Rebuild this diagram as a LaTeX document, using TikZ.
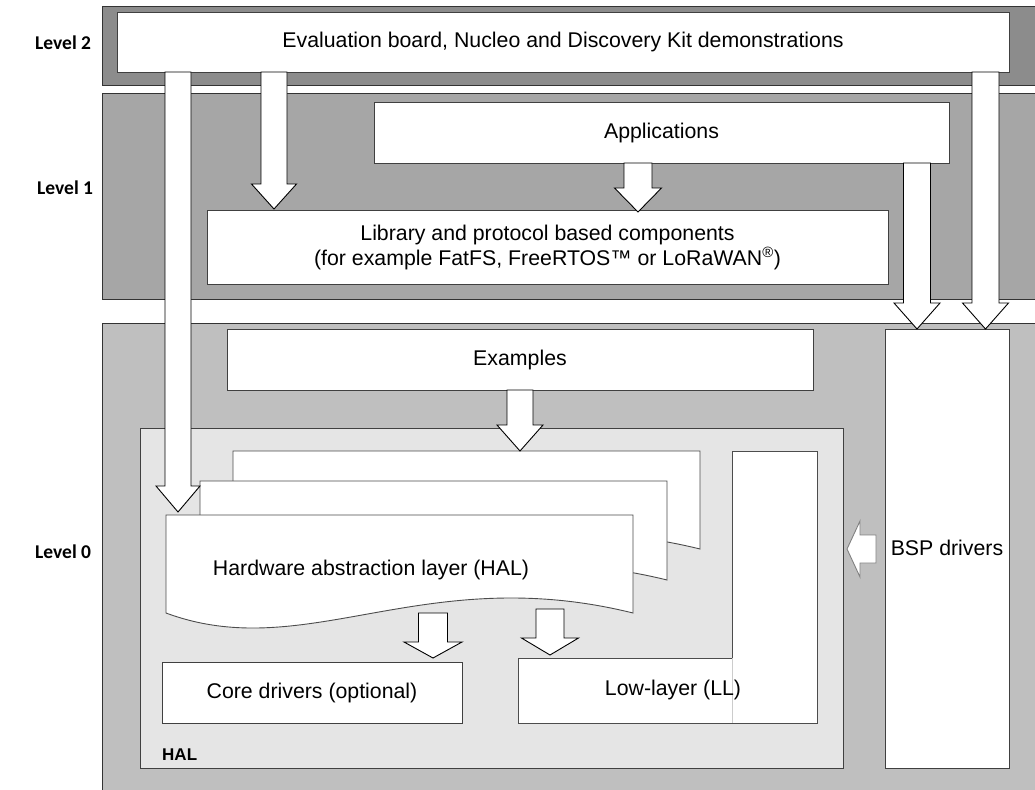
\documentclass[tikz,border=0pt]{standalone}
\usepackage{fontspec}
\setmainfont{Liberation Sans}
\newfontfamily\lvlfont{Carlito}
\begin{document}
\begin{tikzpicture}[x=1pt,y=-1pt,
  band/.style={draw=black!80, line width=1pt},
  box/.style={draw=black!75, fill=white, line width=0.9pt, rectangle, anchor=north west, inner sep=0pt, outer sep=0pt},
  doc/.style={draw=black!70, fill=white, line width=0.9pt},
  blk/.style={draw=black, fill=white, line width=0.9pt, line join=miter},
  txt/.style={font=\fontsize{21.3}{25}\selectfont, inner sep=0pt, align=center},
  lvl/.style={font=\lvlfont\bfseries\fontsize{19.5}{23}\selectfont, inner sep=0pt, anchor=west}]
\useasboundingbox (0,0) rectangle (1035,789);
\clip (0,0) rectangle (1035,789);
\fill[white] (0,0) rectangle (1035,789);
\newcommand\darrow[6]{%
  \draw[blk] ({#1-#5},{#2}) -- ({#1+#5},{#2}) -- ({#1+#5},{#3}) -- ({#1+#6},{#3}) -- ({#1},{#4}) -- ({#1-#6},{#3}) -- ({#1-#5},{#3}) -- cycle;}
% bands
\fill[black!45] (102,7) rectangle (1040,86);
\draw[band] (1040,7) -- (102,7) -- (102,86) -- (1040,86);
\fill[black!35] (102,94) rectangle (1040,299);
\draw[band] (1040,94) -- (102,94) -- (102,299) -- (1040,299);
\fill[black!25] (102,323) rectangle (1040,800);
\draw[band] (1040,323) -- (102,323) -- (102,800);
% level labels
\node[lvl] (l2) at (35,43) {Level 2};
\node[lvl] (l1) at (37,188) {Level 1};
\node[lvl] (l0) at (35,552) {Level 0};
% level 2 box
\node[box, minimum width=892, minimum height=60] (eval) at (117,12) {};
\node[txt] at (eval.center) {Evaluation board, Nucleo and Discovery Kit demonstrations};
% level 1
\node[box, minimum width=575, minimum height=61] (app) at (374,102) {};
\node[txt] at (app.center) {Applications};
\node[box, minimum width=681, minimum height=74] (lib) at (207,210) {};
\node[txt] at (lib.center) {Library and protocol based components\\(for example FatFS, FreeRTOS\texttrademark\ or LoRaWAN\textsuperscript{\textregistered})};
% level 0
\node[box, minimum width=586, minimum height=61] (ex) at (227,329) {};
\node[txt] at (ex.center) {Examples};
\node[box, minimum width=124, minimum height=439] (bsp) at (885,329) {};
\node[txt] at (947,548) {BSP drivers};
% HAL container
\draw[draw=black!75, fill=black!10, line width=1pt] (140,428) rectangle (843,768);
\node[font=\bfseries\fontsize{17}{20}\selectfont, inner sep=0pt, anchor=west] (hallbl) at (162,755) {HAL};
% document stack
\newcommand\docshape[4]{% left, top, right, bottom
  \filldraw[doc] (#1,#4) -- (#1,#2) -- (#3,#2) -- (#3,#4)
   .. controls ({#1+0.55*(#3-#1)},{#4-52}) and ({#1+0.3*(#3-#1)},{#4+52}) .. (#1,#4) -- cycle;}
\docshape{233}{451}{700}{549}
\docshape{200}{481}{667}{580}
\docshape{166}{515}{633}{613}
\node[txt] (hal) at (371,570) {Hardware abstraction layer (HAL)};
% core drivers
\node[box, minimum width=300, minimum height=61] (core) at (162,662) {};
\node[txt] at (core.center) {Core drivers (optional)};
% low layer L shape
\filldraw[draw=black!70, fill=white, line width=0.9pt] (732,451) -- (817,451) -- (817,723) -- (518,723) -- (518,658) -- (732,658) -- cycle;
\draw[black!20, line width=0.8pt] (732,658) -- (732,723);
\node[txt] (ll) at (673,690) {Low-layer (LL)};
% block arrows
\darrow{178}{72}{486}{512}{13}{22}
\darrow{274}{72}{184}{209}{13}{22.5}
\darrow{638}{163}{188}{212}{14}{23.5}
\darrow{917}{163}{303}{329}{13.5}{23}
\darrow{985.5}{72}{303}{329}{13.5}{23}
\darrow{520}{390}{425}{451}{13}{23}
\darrow{433}{613}{642}{658}{14.5}{29}
\darrow{550}{609}{638}{655}{14}{28.5}
% BSP -> HAL arrow
\draw[draw=black!50, fill=white, line width=0.9pt] (876,535) -- (876,563) -- (860,563) -- (860,577) -- (847,549) -- (860,521) -- (860,535) -- cycle;
\end{tikzpicture}
\end{document}
